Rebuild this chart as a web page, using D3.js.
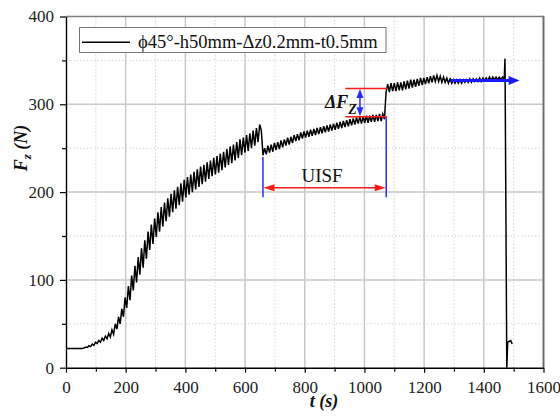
<!DOCTYPE html>
<html><head><meta charset="utf-8">
<script src="https://cdn.jsdelivr.net/npm/d3@7"></script>
<style>body{margin:0;background:#fff}svg{display:block}</style>
</head><body><svg id="c" width="560" height="420"></svg>
<script>
// ---------- data ----------
const xTicks = [0, 200, 400, 600, 800, 1000, 1200, 1400, 1600];
const xMinorTicks = [100, 300, 500, 700, 900, 1100, 1300, 1500];
const yTicks = [0, 100, 200, 300, 400];
const yMinorTicks = [50, 150, 250, 350];

const sampleStepS = 5.5;
const rampStartS = 0;
const rampForceN = [22,22,22,22,22,22,22,22,22,22,22,22.5,23.5,23,25,24,27,25.5,29,27.5,
  31,29,33.5,31,36,33,39,35,43,38,50,44,58,50,67,58,80,68,93,77,
  105,88,116,97,126,106,136,114,145,124,155,134,163,141,170,149,177,155,183,161,
  188,167,193,172,198,177,202,181,206,185,210,189,214,194,217,197,220,200,223,203,
  226,206,229,209,231,212,234,215,236,218,239,220,241,222,244,225,246,228,249,231,
  252,233,254,236,257,239,260,242,262,245,265,247,267,250,270,253,273,257,277,270];
const uisfStartS = 660;
const uisfForceN = [242,250,243,253,245,254,246,256,248,257,249,259,251,260,253,262,254,263,256,265,
  258,266,259,268,261,269,262,270,263,271,264,272,265,273,266,274,267,275,268,276,
  269,277,270,278,271,279,272,280,273,281,274,282,275,283,276,284,277,285,278,286,
  278,286,279,287,279,287,280,288,280,288,281,289,281,289,283];
const plateauStartS = 1072.5;
const plateauForceN = [314,323,314,324,315,324,315,325,316,325,316,326,317,327,318,328,319,328,320,329,
  321,330,322,330,323,331,324,332,325,333,326,333,326,332,325,331,325,330,324,329,
  324,328,324,328,324,328,324,328,325,328,325,329,325,329,326,329,326,330,326,330,
  327,330,327,331,327,331,328,331,328,331,328,331,329];
const unloadTimeS = [1471, 1474, 1477, 1480, 1490, 1495];
const unloadForceN = [352, 180, 0, 29, 31, 27];

const legendLabel = "\u03D545\u00B0-h50mm-\u0394z0.2mm-t0.5mm";

// annotation values (data units)
const uisfSpanS = [660, 1073];
const uisfArrowN = 205;
const uisfBottomN = 194;
const uisfTopN = [240, 285.7];
const deltaSpanS = [936, 1075];
const deltaLevelsN = [285.7, 318];
const deltaArrowS = 985;
const plateauArrowS = [1288, 1520];
const plateauArrowN = 327;

// ---------- drawing ----------
const svg = d3.select("#c");
const x = d3.scaleLinear().domain([0, 1600]).range([66, 543.5]);
const y = d3.scaleLinear().domain([0, 400]).range([367.7, 16.5]);
const serif = "'Liberation Serif','Times New Roman',serif";

// grid
const g = svg.append("g");
g.selectAll(".vmin").data(xMinorTicks).join("line")
  .attr("x1", d => x(d)).attr("x2", d => x(d)).attr("y1", y(0)).attr("y2", y(400))
  .attr("stroke", "#d4d4d4").attr("stroke-width", 1).attr("stroke-dasharray", "1.5,2");
g.selectAll(".hmin").data(yMinorTicks).join("line")
  .attr("x1", x(0)).attr("x2", x(1600)).attr("y1", d => y(d)).attr("y2", d => y(d))
  .attr("stroke", "#d4d4d4").attr("stroke-width", 1).attr("stroke-dasharray", "1.5,2");
g.selectAll(".vmaj").data(xTicks.slice(1, -1)).join("line")
  .attr("x1", d => x(d)).attr("x2", d => x(d)).attr("y1", y(0)).attr("y2", y(400))
  .attr("stroke", "#c8c8c8").attr("stroke-width", 1.5);
g.selectAll(".hmaj").data(yTicks.slice(1, -1)).join("line")
  .attr("x1", x(0)).attr("x2", x(1600)).attr("y1", d => y(d)).attr("y2", d => y(d))
  .attr("stroke", "#c8c8c8").attr("stroke-width", 1.5);

// series
const pts = [];
rampForceN.forEach((f, i) => pts.push([rampStartS + i * sampleStepS, f]));
uisfForceN.forEach((f, i) => pts.push([uisfStartS + i * sampleStepS, f]));
plateauForceN.forEach((f, i) => pts.push([plateauStartS + i * sampleStepS, f]));
unloadTimeS.forEach((t, i) => pts.push([t, unloadForceN[i]]));
const line = d3.line().x(d => x(d[0])).y(d => y(d[1]));
svg.append("path").datum(pts).attr("d", line)
  .attr("fill", "none").attr("stroke", "#000").attr("stroke-width", 1.5).attr("stroke-linejoin", "miter");

// arrow head helper
function head(px, py, dir, color, len, hw) {
  let p;
  if (dir === "r") p = [[px, py], [px - len, py - hw], [px - len, py + hw]];
  if (dir === "l") p = [[px, py], [px + len, py - hw], [px + len, py + hw]];
  if (dir === "u") p = [[px, py], [px - hw, py + len], [px + hw, py + len]];
  if (dir === "d") p = [[px, py], [px - hw, py - len], [px + hw, py - len]];
  svg.append("polygon").attr("points", p.map(q => q.join(",")).join(" ")).attr("fill", color);
}

// UISF annotation
svg.append("line").attr("x1", x(uisfSpanS[0])).attr("x2", x(uisfSpanS[0]))
  .attr("y1", y(uisfTopN[0])).attr("y2", y(uisfBottomN)).attr("stroke", "#2a2aff").attr("stroke-width", 1.5);
svg.append("line").attr("x1", x(uisfSpanS[1])).attr("x2", x(uisfSpanS[1]))
  .attr("y1", y(uisfTopN[1])).attr("y2", y(uisfBottomN)).attr("stroke", "#2a2aff").attr("stroke-width", 1.5);
svg.append("line").attr("x1", x(uisfSpanS[0]) + 6).attr("x2", x(uisfSpanS[1]) - 6)
  .attr("y1", y(uisfArrowN)).attr("y2", y(uisfArrowN)).attr("stroke", "#ff1a1a").attr("stroke-width", 1.5);
head(x(uisfSpanS[0]) + 0.5, y(uisfArrowN), "l", "#ff1a1a", 11, 3.5);
head(x(uisfSpanS[1]) - 0.5, y(uisfArrowN), "r", "#ff1a1a", 11, 3.5);
svg.append("text").attr("x", 322).attr("y", 182).attr("text-anchor", "middle")
  .attr("font-family", serif).attr("font-size", 19).attr("fill", "#111").text("UISF");

// delta Fz annotation
deltaLevelsN.forEach(v => svg.append("line").attr("x1", x(deltaSpanS[0])).attr("x2", x(deltaSpanS[1]))
  .attr("y1", y(v)).attr("y2", y(v)).attr("stroke", "#ff1a1a").attr("stroke-width", 1.5));
svg.append("line").attr("x1", x(deltaArrowS)).attr("x2", x(deltaArrowS))
  .attr("y1", y(deltaLevelsN[1]) + 6).attr("y2", y(deltaLevelsN[0]) - 6).attr("stroke", "#2a2aff").attr("stroke-width", 1.5);
head(x(deltaArrowS), y(deltaLevelsN[1]) + 0.5, "u", "#2a2aff", 9, 3.5);
head(x(deltaArrowS), y(deltaLevelsN[0]) - 0.5, "d", "#2a2aff", 9, 3.5);
const dt = svg.append("text").attr("x", 325).attr("y", 108)
  .attr("font-family", serif).attr("font-size", 18).attr("font-weight", "bold").attr("font-style", "italic").attr("fill", "#111");
dt.append("tspan").text("\u0394F");
dt.append("tspan").attr("dy", 6).attr("font-size", 14).text("Z");

// plateau arrow
svg.append("line").attr("x1", x(plateauArrowS[0])).attr("x2", x(plateauArrowS[1]) - 8)
  .attr("y1", y(plateauArrowN)).attr("y2", y(plateauArrowN)).attr("stroke", "#1a1aff").attr("stroke-width", 3);
head(x(plateauArrowS[1]), y(plateauArrowN), "r", "#1a1aff", 11, 4.5);

// frame (top/right)
svg.append("line").attr("x1", x(0)).attr("x2", x(1600)).attr("y1", y(400)).attr("y2", y(400))
  .attr("stroke", "#808080").attr("stroke-width", 1.5);
svg.append("line").attr("x1", x(1600)).attr("x2", x(1600)).attr("y1", y(400) - 0.75).attr("y2", y(0))
  .attr("stroke", "#6e6e6e").attr("stroke-width", 2);

// axes
svg.append("g").attr("transform", `translate(0,${y(0)})`)
  .call(d3.axisBottom(x).tickValues(xTicks).tickSize(5).tickSizeOuter(0).tickPadding(8).tickFormat(d3.format("d")));
const axm = svg.append("g").attr("transform", `translate(0,${y(0)})`)
  .call(d3.axisBottom(x).tickValues(xMinorTicks).tickSize(4).tickSizeOuter(0).tickFormat(""));
axm.select(".domain").remove();
svg.append("g").attr("transform", `translate(${x(0)},0)`)
  .call(d3.axisLeft(y).tickValues(yTicks).tickSize(6).tickSizeOuter(0).tickPadding(6).tickFormat(d3.format("d")));
const aym = svg.append("g").attr("transform", `translate(${x(0)},0)`)
  .call(d3.axisLeft(y).tickValues(yMinorTicks).tickSize(4).tickSizeOuter(0).tickFormat(""));
aym.select(".domain").remove();
svg.selectAll(".domain").attr("stroke", "#000").attr("stroke-width", 1.4);
svg.selectAll(".tick line").attr("stroke", "#000").attr("stroke-width", 1.2);
svg.selectAll(".tick text").attr("font-family", serif).attr("font-size", 17).attr("fill", "#222");

// axis titles
svg.append("text").attr("x", 324).attr("y", 407).attr("text-anchor", "middle")
  .attr("font-family", serif).attr("font-size", 18).attr("font-weight", "bold").attr("font-style", "italic")
  .attr("fill", "#111").text("t (s)");
const yt = svg.append("text").attr("transform", "translate(27,148) rotate(-90)").attr("text-anchor", "middle")
  .attr("font-family", serif).attr("font-size", 18).attr("font-weight", "bold").attr("font-style", "italic").attr("fill", "#111");
yt.append("tspan").text("F");
yt.append("tspan").attr("dy", 4).attr("font-size", 13).text("z");
yt.append("tspan").attr("dy", -4).text(" (N)");

// legend
svg.append("rect").attr("x", 79.5).attr("y", 27.5).attr("width", 306.5).attr("height", 25)
  .attr("fill", "#fff").attr("stroke", "#777").attr("stroke-width", 1);
svg.append("line").attr("x1", 82).attr("x2", 130).attr("y1", 42.3).attr("y2", 42.3)
  .attr("stroke", "#000").attr("stroke-width", 1.5);
svg.append("text").attr("x", 138).attr("y", 48.3)
  .attr("font-family", serif).attr("font-size", 18.5).attr("fill", "#111").text(legendLabel);
</script></body></html>
